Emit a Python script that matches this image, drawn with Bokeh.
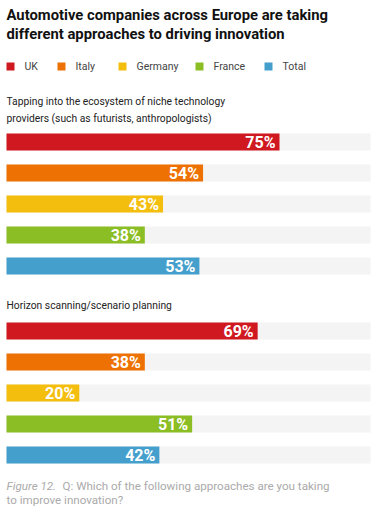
from bokeh.plotting import figure
from bokeh.models import Range1d, Label, ColumnDataSource
from bokeh.core.properties import value
from bokeh.embed import file_html
from bokeh.resources import INLINE

# ---- data ----
series = ["UK", "Italy", "Germany", "France", "Total"]
colors = ["#CF1820", "#EE7203", "#F4BE0F", "#8BBD25", "#459FCD"]
questions = [
    ["Tapping into the ecosystem of niche technology",
     "providers (such as futurists, anthropologists)"],
    ["Horizon scanning/scenario planning"],
]
uk = [75, 69]
italy = [54, 38]
germany = [43, 20]
france = [38, 51]
total = [53, 42]
values = [uk, italy, germany, france, total]

title_lines = ["Automotive companies across Europe are taking",
               "different approaches to driving innovation"]
caption_italic = "Figure 12."
caption_rest = ["Q: Which of the following approaches are you taking",
                "to improve innovation?"]

# ---- layout (pixels from top-left of figure) ----
W, H = 376, 514
FONT = "Roboto"
X0 = 6            # left edge of bars
PX_PER_PCT = 3.64
group_top = [141.5, 330.5]   # centre of first bar in each group
row_step = 31
bar_h = 17
header_mid = [[100.5, 117.5], [305]]
title_mid = [14.5, 33.5]
caption_mid = [485, 499]
legend_px = [6, 57, 118, 195, 264]   # left edge of legend swatches
legend_y = 66

def px(xp):
    return (xp - X0) / PX_PER_PCT

p = figure(width=W, height=H, output_backend="svg", toolbar_location=None,
           x_range=Range1d(px(0), px(W)), y_range=Range1d(H, 0),
           min_border=0, outline_line_color=None)
p.axis.visible = False
p.grid.visible = False
p.background_fill_color = "white"
p.border_fill_color = "white"

# background tracks
track_y = [group_top[g] + i * row_step for g in range(2) for i in range(len(series))]
p.hbar(y=track_y, left=0, right=px(370), height=bar_h,
       fill_color="#F4F4F4", line_color=None)

for i, (name, col, vals) in enumerate(zip(series, colors, values)):
    ys = [group_top[g] + i * row_step for g in range(2)]
    src = ColumnDataSource(dict(y=ys, v=vals, lab=[f"{v}%" for v in vals]))
    p.hbar(y="y", left=0, right="v", height=bar_h, source=src,
           fill_color=col, line_color=None)
    p.text(x="v", y="y", text="lab", source=src, x_offset=-4,
           text_align="right", text_baseline="middle",
           text_color="white", text_font=value(FONT),
           text_font_style="bold", text_font_size="16px")

# legend
p.rect(x=[px(x + 4) for x in legend_px], y=[legend_y] * len(series),
       width=8 / PX_PER_PCT, height=8, fill_color=colors, line_color=None)

def add_label(text, x, y, size, color, style="normal"):
    p.add_layout(Label(x=x, y=y, x_units="screen", y_units="data", text=text,
                       text_font=FONT, text_font_size=size, text_color=color,
                       text_font_style=style, text_baseline="middle"))

for name, x in zip(series, legend_px):
    add_label(name, x + 18, legend_y, "10.5px", "#444444")

for line, yy in zip(title_lines, title_mid):
    add_label(line, X0, yy, "14.8px", "#111111", "bold")

for g, lines in enumerate(questions):
    for line, yy in zip(lines, header_mid[g]):
        add_label(line, X0, yy, "10.3px", "#222222")

add_label(caption_italic, X0, caption_mid[0], "11.6px", "#AAAAAA", "italic")
add_label(caption_rest[0], 62, caption_mid[0], "11.6px", "#AAAAAA")
add_label(caption_rest[1], X0, caption_mid[1], "11.6px", "#AAAAAA")

open("out.html", "w").write(file_html(p, INLINE))
